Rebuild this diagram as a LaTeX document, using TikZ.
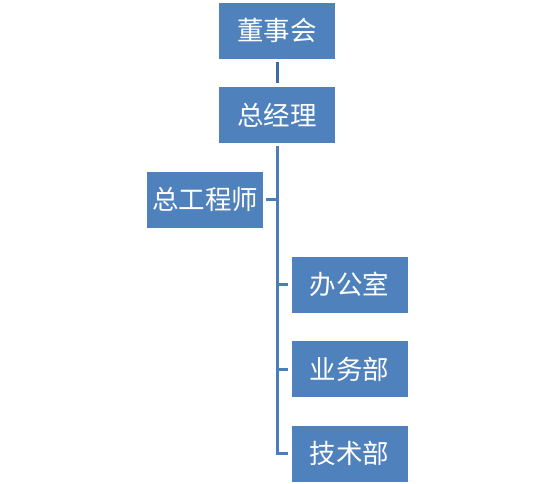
\documentclass[tikz,border=0pt]{standalone}
\usepackage{fontspec}
\newfontfamily\cjk{Noto Sans CJK SC}
\definecolor{boxblue}{HTML}{4F81BD}
\definecolor{lineblue}{HTML}{4A7EBB}
\definecolor{linedark}{HTML}{3F6C9E}
\begin{document}
\begin{tikzpicture}[x=1pt,y=-1pt,
  orgbox/.style={fill=boxblue, draw=none, text=white, minimum width=116pt, minimum height=56pt, inner sep=0pt, font=\cjk\fontsize{26.5}{30}\selectfont},
  conn/.style={draw=lineblue, line width=3pt}]
\useasboundingbox (0,0) rectangle (554,483);
\node[orgbox] (dsh) at (277,30.5) {董事会};
\node[orgbox] (zjl) at (277,115) {总经理};
\node[orgbox] (zgcs) at (205,199.5) {总工程师};
\node[orgbox] (bgs) at (349.5,284.5) {办公室};
\node[orgbox] (ywb) at (349.5,369) {业务部};
\node[orgbox] (jsb) at (349.5,453.5) {技术部};
\coordinate (top) at (277,146);
\coordinate (bot) at (277,453.5);
\draw[draw=linedark, line width=3pt] ([yshift=-3pt]dsh.south) -- ([yshift=4pt]zjl.north);
\draw[conn] (top) -- (bot);
\draw[conn] ([xshift=3pt]zgcs.east) -- (zgcs.east -| top);
\draw[conn] (bgs.west -| top) -- ([xshift=-3pt]bgs.west);
\draw[conn] (ywb.west -| top) -- ([xshift=-3pt]ywb.west);
\draw[conn] ([xshift=-1.5pt]bot) -- ([xshift=-3pt]jsb.west);
\end{tikzpicture}
\end{document}
